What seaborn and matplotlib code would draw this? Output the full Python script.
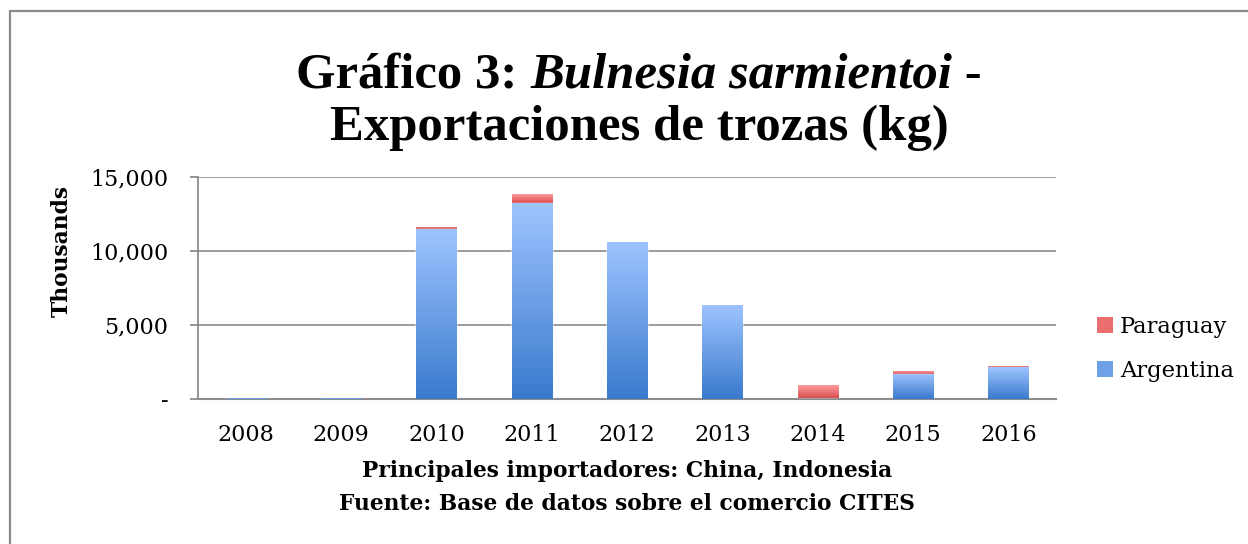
import numpy as np
import pandas as pd
import matplotlib
matplotlib.use('Agg')
import matplotlib.pyplot as plt
from matplotlib.patches import Patch, Rectangle
from matplotlib.colors import LinearSegmentedColormap
import matplotlib.ticker as mticker
import seaborn as sns

# values in thousands of kg
years = ['2008', '2009', '2010', '2011', '2012', '2013', '2014', '2015', '2016']
argentina = [40, 40, 11480, 13270, 10630, 6370, 30, 1700, 2150]
paraguay = [0, 0, 150, 600, 0, 0, 900, 200, 80]

BLUE_TOP, BLUE_BOT = '#9EC4FF', '#3A7ACD'
RED_TOP, RED_BOT = '#FF9B9B', '#D84A4A'
GRID = '#8C8C8C'

df = pd.DataFrame({'year': years, 'Argentina': argentina, 'Paraguay': paraguay})
df['total'] = df['Argentina'] + df['Paraguay']

sns.set_theme(style='white')
plt.rcParams['font.family'] = ['DejaVu Serif']
plt.rcParams['text.color'] = 'black'
plt.rcParams['xtick.labelcolor'] = 'black'
plt.rcParams['ytick.labelcolor'] = 'black'

fig = plt.figure(figsize=(12.48, 5.44), dpi=100)
ax = fig.add_axes([198 / 1248, 1 - 399 / 544, 858 / 1248, 222 / 544])

# stacked: totals first (Paraguay colour), then Argentina over them
sns.barplot(data=df, x='year', y='total', color=RED_BOT, width=0.42,
            saturation=1, ax=ax, zorder=2)
sns.barplot(data=df, x='year', y='Argentina', color=BLUE_BOT, width=0.42,
            saturation=1, ax=ax, zorder=3)


def gradient(patch, y0, y1, top, bot, z):
    if y1 <= y0:
        return
    cmap = LinearSegmentedColormap.from_list('g', [bot, top])
    x0 = patch.get_x()
    w = patch.get_width()
    grad = np.linspace(0, 1, 64).reshape(-1, 1)
    im = ax.imshow(grad, cmap=cmap, origin='lower', aspect='auto',
                   extent=[x0, x0 + w, y0, y1], zorder=z)
    im.set_clip_path(patch)


n = len(years)
red_patches = ax.patches[:n]
blue_patches = ax.patches[n:]
for i in range(n):
    gradient(red_patches[i], argentina[i], argentina[i] + paraguay[i], RED_TOP, RED_BOT, 2.5)
    gradient(blue_patches[i], 0, argentina[i], BLUE_TOP, BLUE_BOT, 3.5)

ax.set_xlim(-0.5, n - 0.5)
ax.set_ylim(0, 15000)
ax.set_yticks([0, 5000, 10000, 15000])
ax.yaxis.set_major_formatter(mticker.FuncFormatter(
    lambda v, p: '-' if v == 0 else f'{int(v):,}'))
ax.set_xticks(range(n))
ax.set_xticklabels(years)
ax.set_xticks(np.arange(-0.5, n), minor=True)
ax.tick_params(axis='x', which='major', length=0, pad=18, labelsize=16)
ax.tick_params(axis='x', which='minor', length=6, width=1.3, color=GRID, direction='out')
ax.tick_params(axis='y', length=6, width=1.3, color=GRID, direction='out', pad=15.5,
               labelsize=16, left=True)
ax.set_xlabel('')
ax.set_ylabel('')
ax.yaxis.grid(True, color=GRID, linewidth=1.2)
ax.set_axisbelow(True)
sns.despine(ax=ax, top=True, right=True)
ax.spines['left'].set_color(GRID)
ax.spines['left'].set_linewidth(1.3)
ax.spines['bottom'].set_color(GRID)
ax.spines['bottom'].set_linewidth(1.5)

handles = [Patch(facecolor='#EC6F6F', edgecolor='none', label='Paraguay'),
           Patch(facecolor='#6EA0E8', edgecolor='none', label='Argentina')]
fig.legend(handles=handles, loc='center left', bbox_to_anchor=(1097 / 1248, 1 - 349 / 544),
           frameon=False, fontsize=16.3, handlelength=0.7, handleheight=0.7,
           handletextpad=0.3, labelspacing=0.95, borderaxespad=0, borderpad=0)

# title with italic species name
TITLE_FONT = ['Liberation Serif', 'DejaVu Serif']
fig.canvas.draw()
r = fig.canvas.get_renderer()
tx = 639 / 1248
y1 = 1 - 88 / 544
parts = [('Gráfico 3: ', 'normal'), ('Bulnesia sarmientoi', 'italic'), (' -', 'normal')]
texts = []
for s, st in parts:
    t = fig.text(0, y1, s, fontsize=36.5, fontweight='bold', style=st, va='baseline',
                 ha='left', family=TITLE_FONT)
    texts.append(t)
widths = [t.get_window_extent(r).width for t in texts]
x = tx * 1248 - sum(widths) / 2
for t, w in zip(texts, widths):
    t.set_x(x / 1248)
    x += w
fig.text(tx, 1 - 140 / 544, 'Exportaciones de trozas (kg)', fontsize=36.5, fontweight='bold',
         ha='center', va='baseline', family=TITLE_FONT)

cx = 627 / 1248
fig.text(62 / 1248, 1 - 251 / 544, 'Thousands', rotation=90, fontsize=15.7, fontweight='bold',
         ha='center', va='center')
fig.text(cx, 1 - 471 / 544, 'Principales importadores: China, Indonesia', fontsize=15.7,
         fontweight='bold', ha='center', va='center')
fig.text(cx, 1 - 504 / 544, 'Fuente: Base de datos sobre el comercio CITES', fontsize=15.7,
         fontweight='bold', ha='center', va='center')

# outer chart frame
fig.patches.append(Rectangle((10 / 1248, -0.5), 2, 1.5 - 11 / 544, transform=fig.transFigure,
                             fill=False, edgecolor='#8A8A8A', linewidth=1.6))

fig.savefig('out.png', dpi=100)
